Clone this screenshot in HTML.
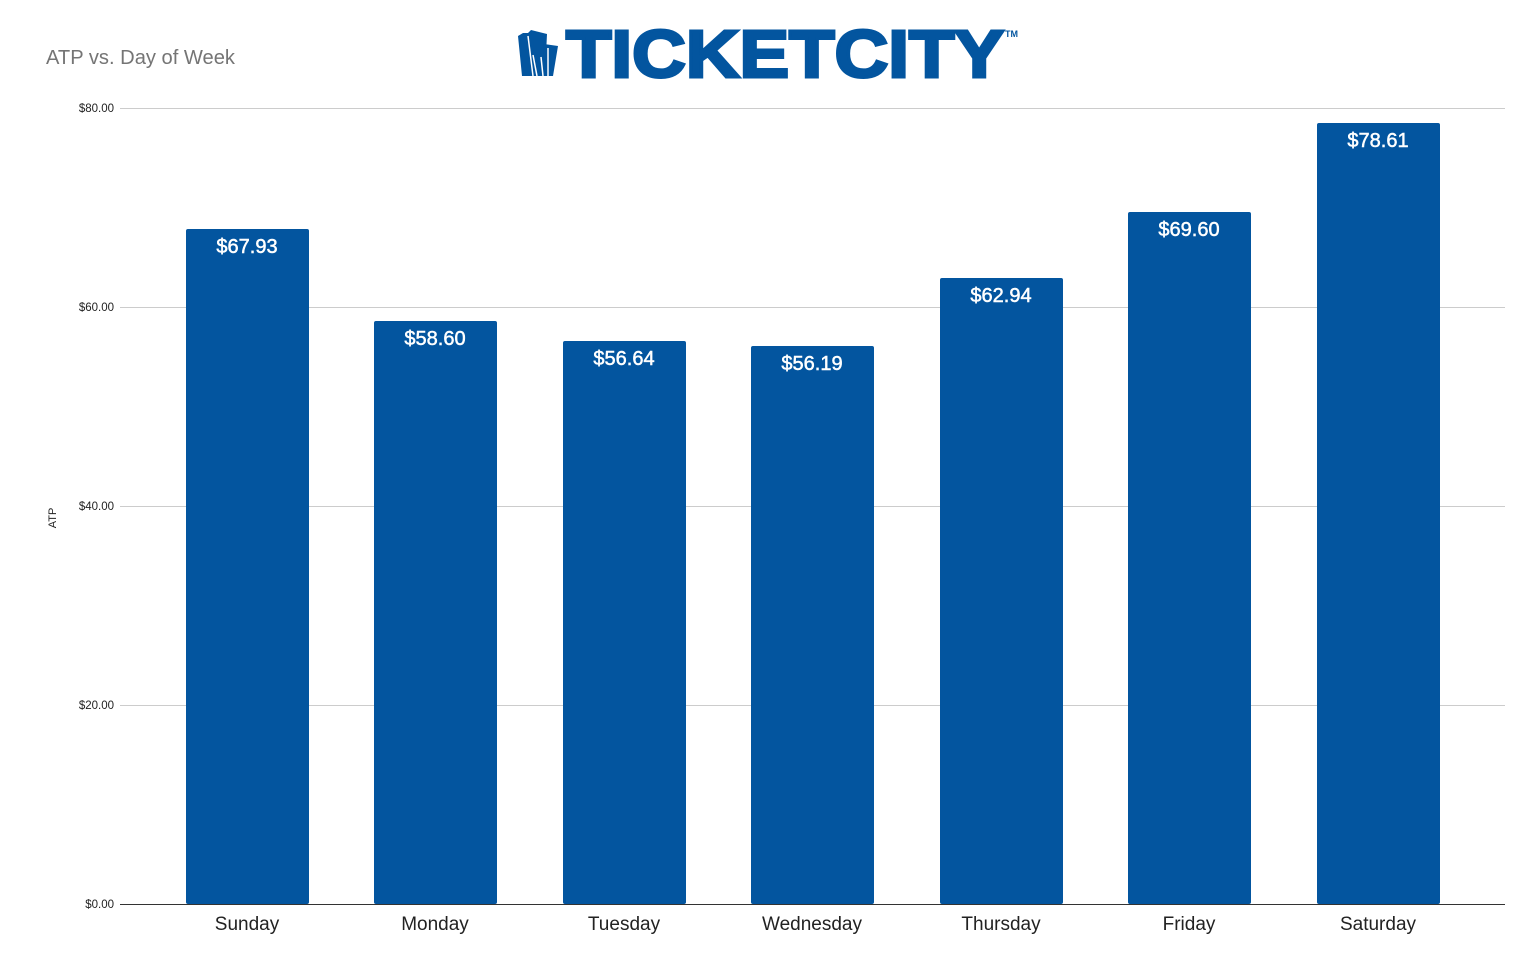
<!DOCTYPE html>
<html><head><meta charset="utf-8"><style>
html,body{margin:0;padding:0;background:#fff;}
</style></head><body>
<svg width="1536" height="949" xmlns="http://www.w3.org/2000/svg" font-family="Liberation Sans, Arial, sans-serif">
<rect width="1536" height="949" fill="#fff"/>
<text x="46" y="64" font-size="20" fill="#757575" textLength="189" lengthAdjust="spacingAndGlyphs">ATP vs. Day of Week</text>
<!-- logo -->
<g fill="#03559f">
<polygon points="518,36 523,33 528,33 531,30 547,34 545,76 522,76"/>
<polygon points="544,44 558,46 553,76 541,76"/>
</g>
<g stroke="#fff" stroke-width="1.5" fill="none">
<line x1="528" y1="36" x2="533" y2="76"/>
<line x1="533" y1="55" x2="537" y2="76"/>
<line x1="541" y1="57" x2="543" y2="76"/>
<line x1="548" y1="48" x2="548" y2="76"/>
</g>
<text x="566" y="77" font-size="67" font-weight="bold" fill="#03559f" textLength="438" lengthAdjust="spacingAndGlyphs" stroke="#03559f" stroke-width="3">TICKETCITY</text>
<text x="1005" y="37" font-size="9" font-weight="bold" fill="#03559f">TM</text>
<!-- grid -->
<g stroke="#cccccc" stroke-width="1">
<line x1="120" y1="108.5" x2="1505" y2="108.5"/>
<line x1="120" y1="307.5" x2="1505" y2="307.5"/>
<line x1="120" y1="506.5" x2="1505" y2="506.5"/>
<line x1="120" y1="705.5" x2="1505" y2="705.5"/>
</g>
<g font-size="11.5" fill="#222" text-anchor="end">
<text x="114" y="112">$80.00</text>
<text x="114" y="311">$60.00</text>
<text x="114" y="510">$40.00</text>
<text x="114" y="709">$20.00</text>
<text x="114" y="908">$0.00</text>
</g>
<text transform="translate(56,518) rotate(-90)" font-size="11" fill="#222" text-anchor="middle">ATP</text>
<g fill="#03559f">
<rect x="186" y="229" width="123" height="675" rx="2"/>
<rect x="374" y="321" width="123" height="583" rx="2"/>
<rect x="563" y="341" width="123" height="563" rx="2"/>
<rect x="751" y="346" width="123" height="558" rx="2"/>
<rect x="940" y="278" width="123" height="626" rx="2"/>
<rect x="1128" y="212" width="123" height="692" rx="2"/>
<rect x="1317" y="123" width="123" height="781" rx="2"/>
</g>
<line x1="120" y1="904.5" x2="1505" y2="904.5" stroke="#333" stroke-width="1"/>
<g font-size="20" fill="#fff" text-anchor="middle" stroke="#fff" stroke-width="0.5">
<text x="247" y="253">$67.93</text>
<text x="435" y="345">$58.60</text>
<text x="624" y="365">$56.64</text>
<text x="812" y="370">$56.19</text>
<text x="1001" y="302">$62.94</text>
<text x="1189" y="236">$69.60</text>
<text x="1378" y="147">$78.61</text>
</g>
<g font-size="19" fill="#222" text-anchor="middle">
<text x="247" y="930">Sunday</text>
<text x="435" y="930">Monday</text>
<text x="624" y="930">Tuesday</text>
<text x="812" y="930">Wednesday</text>
<text x="1001" y="930">Thursday</text>
<text x="1189" y="930">Friday</text>
<text x="1378" y="930">Saturday</text>
</g>
</svg>
</body></html>
